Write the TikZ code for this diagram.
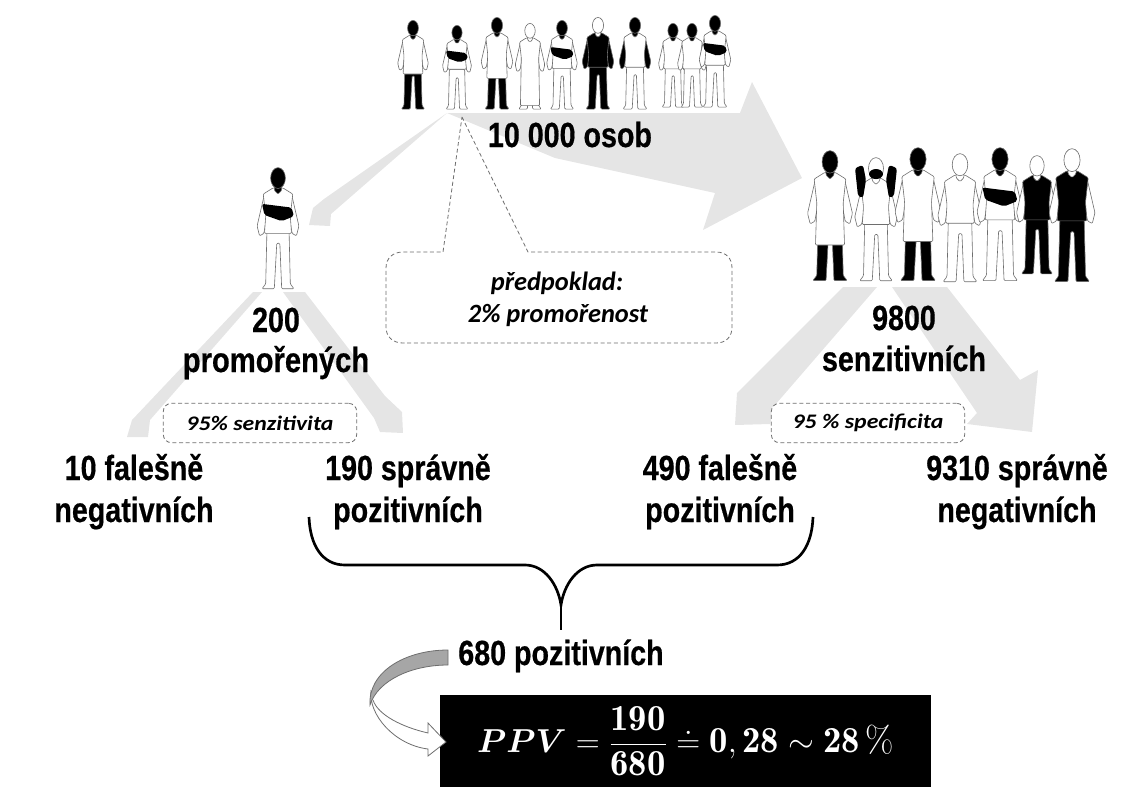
\documentclass[tikz,border=0pt]{standalone}
\usepackage{amsmath}
\usepackage{bm}
\usepackage{fontspec}
\newfontfamily\labfont[FakeStretch=0.82,BoldFeatures={FakeBold=0.5}]{Liberation Sans}
\newfontfamily\widefont[FakeStretch=0.835,BoldFeatures={FakeBold=0.5}]{Liberation Sans}
\newfontfamily\notefont{Carlito}
\newfontfamily\smallnotefont[FakeStretch=1.15]{Carlito}
\definecolor{flowgray}{HTML}{E5E5E5}
\definecolor{linegray}{HTML}{6E6E6E}
\newcommand{\ppvformula}{$\displaystyle\bm{PPV}=\dfrac{\mathbf{190}}{\mathbf{680}}\doteq\mathbf{0{,}\,28}\sim\mathbf{28}\,\%$\hspace{7.5pt}}
\tikzset{
	biglab/.style={anchor=base,inner sep=0pt,font=\fontsize{26.2}{30}\labfont\bfseries,text=black},
	widelab/.style={anchor=base,inner sep=0pt,font=\fontsize{26.2}{30}\widefont\bfseries,text=black},
	noteline/.style={draw=linegray,densely dashed,line width=0.6pt},
	notetext/.style={inner sep=0pt,font=\fontsize{19.8}{24}\notefont\bfseries\itshape},
	notebox/.style={noteline,rounded corners=6pt,fill=white,minimum width=145pt,minimum height=29.5pt,inner sep=0pt,font=\fontsize{15.5}{18}\smallnotefont\bfseries\itshape},
	flow/.style={fill=flowgray,draw=none},
	bodyline/.style={draw=linegray,line width=0.45pt,line join=round,rounded corners=0.8pt},
	resultbox/.style={fill=black,text=white,minimum width=368pt,minimum height=69pt,inner sep=0pt,font=\fontsize{27.5}{32}\selectfont}
}
% x, feet y, scale, head, torso, legs, arms, band, torso bottom
\newcommand{\person}[9]{%
	\begin{scope}[shift={(#1,#2)},scale=#3]
		\draw [bodyline,fill=#6] (-9,-48) -- (9,-48) -- (10,-5) -- (13,-1) -- (3,-1) -- (1.5,-38) -- (-1,-38) -- (-3,-1) -- (-13,-1) -- (-10,-5) -- cycle ;
		\draw [bodyline,fill=#7] (-11,-78) -- (-17,-52) -- (-15,-44) -- (-11.5,-46) -- (-8,-66) -- cycle ;
		\draw [bodyline,fill=#7] (11,-78) -- (17,-52) -- (15,-44) -- (11.5,-46) -- (8,-66) -- cycle ;
		\draw [bodyline,fill=#5] (-4,-83) -- (4,-83) -- (12,-78) -- (10,-60) -- (11,#9) -- (-11,#9) -- (-10,-60) -- (-12,-78) -- cycle ;
		\path [fill=#8,rounded corners=1.5pt] (-13,-70) -- (11,-67) -- (13,-60) -- (3,-56) -- (-11,-61) -- cycle ;
		\draw [bodyline,fill=#4] (-3,-86) -- (3,-86) -- (3,-81) -- (0,-78) -- (-3,-81) -- cycle ;
		\draw [bodyline,fill=#4] (0,-91) ellipse (6 and 8.5) ;
	\end{scope}
}
\begin{document}
\begin{tikzpicture}[x=0.75pt,y=0.75pt,yscale=-1,xscale=1]
	\useasboundingbox (0,0) rectangle (1147,800);

	%Shape: Big flow to the right
	\draw [flow] (447,113) -- (740,113) -- (752,82) -- (802,178) -- (703,230) -- (715,193) -- (555,158) -- cycle ;
	%Shape: Flow to the left
	\draw [flow] (447,113) -- (324,199) -- (313,208) -- (309,225) -- (330,226) -- (331,214) -- cycle ;
	%Shape: Flows below the single person
	\draw [flow] (262,292) -- (253,292) -- (132,420) -- (127,437) -- (148,437) -- (150,420) -- cycle ;
	\draw [flow] (283,292) -- (305,292) -- (385,396) -- (402,412) -- (403,433) -- (380,432) -- (374,418) -- cycle ;
	%Shape: Flows below the group
	\draw [flow] (843,287) -- (877,287) -- (775,405) -- (770,424) -- (735,425) -- (737,393) -- (755,375) -- cycle ;
	\draw [flow] (892,287) -- (947,287) -- (1020,380) -- (1038,370) -- (1032,432) -- (967,424) -- (977,413) -- cycle ;

	%Shape: Top row
	\person{413}{110}{0.9}{black}{white}{black}{white}{none}{-40}
	\person{457}{110}{0.85}{black}{white}{white}{white}{black}{-48}
	\person{497}{110}{0.93}{black}{white}{black}{white}{none}{-34}
	\person{530}{110}{0.87}{white}{white}{white}{white}{none}{-5}
	\person{562}{110}{0.9}{black}{white}{white}{white}{black}{-46}
	\person{598}{110}{0.93}{white}{black}{black}{black}{none}{-46}
	\person{635}{110}{0.93}{black}{white}{white}{black}{none}{-46}
	\person{673}{108}{0.85}{black}{white}{white}{white}{none}{-46}
	\person{692}{108}{0.85}{black}{white}{white}{white}{none}{-46}
	\person{715}{108}{0.93}{black}{white}{white}{white}{black}{-46}

	%Shape: Single person
	\person{278}{290}{1.23}{black}{white}{white}{white}{black}{-46}

	%Shape: Group
	\person{830}{282}{1.32}{black}{white}{black}{white}{none}{-28}
	\person{876}{282}{1.25}{white}{white}{white}{white}{none}{-46}
	\person{918}{282}{1.35}{black}{white}{black}{white}{none}{-30}
	\person{960}{283}{1.3}{white}{white}{white}{white}{none}{-46}
	\person{1000}{282}{1.35}{black}{white}{white}{white}{black}{-46}
	\person{1037}{275}{1.2}{white}{black}{black}{white}{none}{-46}
	\person{1072}{283}{1.35}{white}{black}{black}{white}{none}{-46}
	%Shape: Raised arms and mask
	\fill [black,rounded corners=2pt] (855,168) -- (863,165) -- (866,180) -- (863,198) -- (858,196) -- cycle ;
	\fill [black,rounded corners=2pt] (897,168) -- (889,165) -- (886,180) -- (889,198) -- (894,196) -- cycle ;
	\fill [black] (876,174) ellipse (7 and 5) ;

	%Shape: Callout
	\draw [noteline,fill=white] (462,117) -- (528,252) -- (716,252) .. controls (726,252) and (732,258) .. (732,268) -- (732,327) .. controls (732,337) and (726,343) .. (716,343) -- (403,343) .. controls (393,343) and (386,337) .. (386,327) -- (386,268) .. controls (386,258) and (393,252) .. (403,252) -- (443,252) -- cycle ;
	% Text Node
	\draw (557,283) node (assume) [notetext] {předpoklad:};
	% Text Node
	\draw (558,315) node (prevalence) [notetext] {2\% promořenost};
	% Text Node
	\draw (260,423) node (sens) [notebox] {95\% senzitivita};
	% Text Node
	\draw (868,423) node (spec) [notebox] {95 \% specificita};

	% Text Node
	\draw (570,147) node (total) [biglab] {10 000 osob};
	% Text Node
	\draw (276,332) node (infn) [biglab] {200};
	% Text Node
	\draw (276,372) node (inf) [widelab] {promořených};
	% Text Node
	\draw (904,330) node (sensn) [biglab] {9800};
	% Text Node
	\draw (904,371) node (sensw) [biglab] {senzitivních};
	% Text Node
	\draw (134,480) node (fna) [biglab] {10 falešně};
	% Text Node
	\draw (134,522) node (fnb) [biglab] {negativních};
	% Text Node
	\draw (408,480) node (tpa) [biglab] {190 správně};
	% Text Node
	\draw (408,522) node (tpb) [biglab] {pozitivních};
	% Text Node
	\draw (720,480) node (fpa) [biglab] {490 falešně};
	% Text Node
	\draw (720,522) node (fpb) [biglab] {pozitivních};
	% Text Node
	\draw (1017,480) node (tna) [biglab] {9310 správně};
	% Text Node
	\draw (1017,522) node (tnb) [biglab] {negativních};
	% Text Node
	\draw (561,665) node (pos) [biglab] {680 pozitivních};

	%Shape: Brace
	\draw [line width=2pt] (309,517) .. controls (310,545) and (322,565) .. (345,565) -- (525,565) .. controls (545,565) and (558,585) .. (561,605) .. controls (564,585) and (577,565) .. (597,565) -- (777,565) .. controls (800,565) and (812,545) .. (813,517) ;
	\draw [line width=2pt] (561,605) -- (561,630) ;

	%Shape: Result
	\draw (685.5,741) node (ppv) [resultbox] {\ppvformula} ;

	%Shape: Curved arrow
	\draw [draw=linegray,line width=0.6pt,fill=white] (371,690) .. controls (368,715) and (395,745) .. (428,749) -- (428,756) -- (446,742) -- (428,723) -- (428,733) .. controls (402,727) and (378,715) .. (373,700) ;
	\draw [draw=linegray,line width=0.6pt,fill=black!35] (448,650) .. controls (405,650) and (368,672) .. (370,705) .. controls (378,680) and (412,665) .. (448,665) -- cycle ;

\end{tikzpicture}
\end{document}
